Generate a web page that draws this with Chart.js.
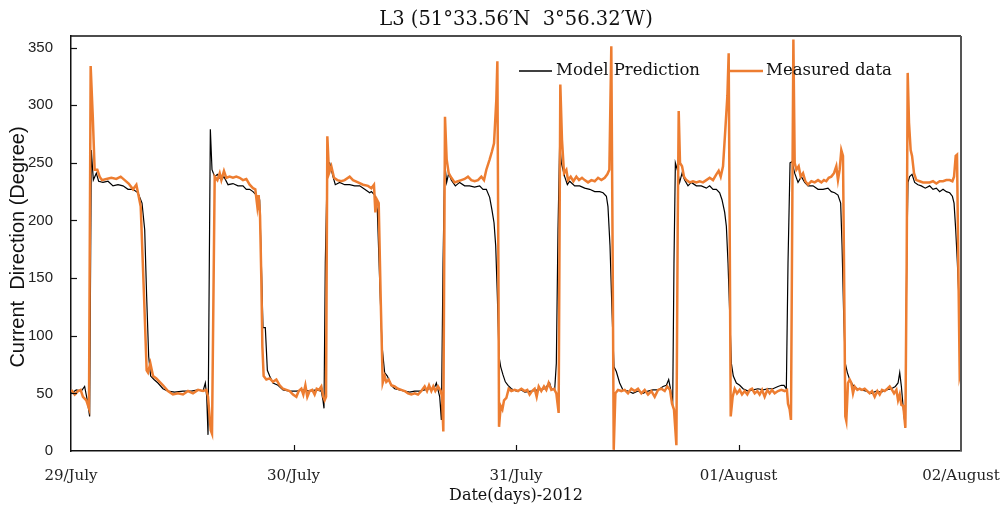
<!DOCTYPE html>
<html><head><meta charset="utf-8">
<script src="https://cdn.jsdelivr.net/npm/chart.js@4.4.1/dist/chart.umd.min.js"></script>
<style>html,body{margin:0;padding:0;background:#fff;} #wrap{width:1006px;height:513px;}</style>
</head><body><div id="wrap"><canvas id="c" width="1006" height="513"></canvas></div>
<script>
const titleText = 'L3 (51°33.56′N  3°56.32′W)';
const yTitle = 'Current  Direction (Degree)';
const xTitle = 'Date(days)-2012';
const tickHours = [0, 24, 48, 72, 96];
const tickLabels = ['29/July', '30/July', '31/July', '01/August', '02/August'];
const seriesNames = ['Model Prediction', 'Measured data'];

// [hour since 29/July 00:00, direction in degrees]
const measured = [
[0.04,53],[0.40,49],[0.76,52],[1.04,53],[1.29,47],[1.65,44],[1.94,37],[2.12,334],[2.35,290],[2.55,244],[2.84,244],[3.09,238],[3.34,235],[3.81,236],[4.35,237],[4.89,236],[5.36,238],[5.79,235],[6.22,232],[6.69,227],[7.05,231],[7.30,221],[7.52,212],[7.88,134],[8.16,70],[8.31,68],[8.56,76],[8.85,65],[9.21,63],[9.56,60],[9.92,57],[10.46,52],[11.00,49],[11.54,50],[12.08,49],[12.62,52],[13.16,50],[13.70,53],[14.24,52],[14.60,53],[14.78,47],[15.07,18],[15.21,15],[15.50,238],[15.79,235],[16.04,241],
[16.22,235],[16.50,243],[16.75,237],[17.11,238],[17.47,237],[17.83,238],[18.19,237],[18.55,235],[18.91,236],[19.27,231],[19.63,228],[19.88,227],[20.10,212],[20.24,222],[20.39,204],[20.53,149],[20.64,91],[20.78,65],[21.07,62],[21.43,63],[21.79,60],[22.15,62],[22.51,57],[22.87,54],[23.23,53],[23.59,52],[23.95,49],[24.31,47],[24.56,52],[24.85,54],[25.06,49],[25.28,57],[25.49,47],[25.74,52],[26.03,53],[26.28,49],[26.50,54],[26.75,53],[27.00,56],[27.22,47],[27.36,44],[27.51,47],[27.65,273],[27.83,241],[28.08,247],[28.37,237],[28.73,235],[29.16,234],[29.52,235],[30.06,238],[30.42,235],[30.96,233],[31.50,231],[32.04,230],
[32.40,228],[32.68,231],[32.83,207],[33.00,218],[33.19,215],[33.40,134],[33.62,59],[33.83,65],[34.01,60],[34.27,62],[34.55,57],[34.91,56],[35.27,54],[35.63,53],[35.99,52],[36.35,50],[36.71,49],[37.07,50],[37.43,49],[37.79,52],[38.15,56],[38.40,52],[38.62,57],[38.87,52],[39.08,56],[39.30,52],[39.59,56],[39.88,52],[40.02,47],[40.16,17],[40.34,290],[40.52,253],[40.74,241],[41.03,237],[41.38,233],[41.74,234],[42.10,235],[42.46,236],[42.82,238],[43.18,235],[43.54,234],[43.90,235],[44.26,238],[44.55,235],[44.80,244],[45.16,253],[45.41,260],[45.63,267],[45.88,305],[45.99,338],[46.10,163],[46.17,21],[46.35,39],[46.53,36],[46.71,44],[46.96,46],[47.21,54],[47.50,52],[47.86,53],[48.22,52],
[48.58,54],[48.94,52],[49.22,53],[49.47,49],[49.73,52],[50.01,54],[50.23,47],[50.45,56],[50.73,52],[51.02,56],[51.27,53],[51.52,59],[51.81,53],[52.10,54],[52.35,50],[52.60,33],[52.78,318],[52.96,270],[53.18,241],[53.43,244],[53.61,235],[53.90,238],[54.19,234],[54.51,238],[54.80,235],[55.12,237],[55.41,235],[55.77,233],[56.13,235],[56.49,234],[56.85,237],[57.21,235],[57.57,237],[57.85,240],[58.07,244],[58.28,351],[58.43,163],[58.54,1],[58.72,50],[59.00,53],[59.36,52],[59.72,53],[60.08,50],[60.44,54],[60.80,52],[61.16,54],[61.52,50],[61.88,53],[62.24,49],[62.60,52],[62.96,47],[63.32,53],[63.68,54],[64.04,52],[64.32,56],
[64.61,53],[64.83,41],[65.04,36],[65.30,5],[65.44,192],[65.55,295],[65.69,250],[65.91,247],[66.12,238],[66.37,235],[66.73,233],[67.09,234],[67.45,233],[67.81,234],[68.17,233],[68.53,235],[68.89,237],[69.25,235],[69.61,240],[69.86,243],[70.08,238],[70.33,247],[70.58,279],[70.80,308],[70.94,345],[71.05,192],[71.16,30],[71.37,47],[71.59,54],[71.84,50],[72.13,53],[72.38,49],[72.67,52],[72.95,49],[73.21,53],[73.46,54],[73.75,50],[74.03,52],[74.28,49],[74.54,53],[74.82,47],[75.11,53],[75.36,50],[75.61,53],[75.90,50],[76.26,52],[76.62,53],[76.98,52],[77.23,53],[77.34,41],[77.52,36],[77.66,27],[77.81,221],[77.92,357],[78.06,250],[78.24,244],[78.49,247],[78.71,238],[78.96,241],[79.21,234],[79.50,231],[79.86,234],[80.22,233],[80.58,235],
[80.94,233],[81.22,235],[81.47,234],[81.73,237],[82.01,238],[82.30,241],[82.55,247],[82.73,235],[82.91,244],[83.09,261],[83.27,256],[83.38,163],[83.52,30],[83.63,26],[83.81,59],[83.99,62],[84.17,59],[84.35,50],[84.53,56],[84.82,53],[85.07,54],[85.32,53],[85.61,54],[85.90,52],[86.15,50],[86.40,52],[86.69,47],[86.98,52],[87.23,49],[87.48,53],[87.77,52],[88.06,54],[88.31,56],[88.56,53],[88.78,50],[89.03,53],[89.21,44],[89.39,49],[89.57,40],[89.78,39],[90.00,20],[90.14,163],[90.25,328],[90.39,285],[90.57,261],[90.72,256],[90.93,241],[91.18,235],[91.54,234],[91.90,233],[92.26,233],[92.62,233],[92.98,234],[93.34,232],[93.70,234],[94.06,234],[94.42,235],[94.78,235],[95.07,234],[95.25,238],[95.43,256],[95.57,257],[95.71,163],[95.86,65],[96.00,70]
];

const model = [
[0.04,50],[0.57,53],[1.11,52],[1.47,56],[1.76,44],[2.01,30],[2.19,261],[2.41,235],[2.73,241],[2.98,234],[3.45,233],[3.99,234],[4.53,230],[5.07,231],[5.61,230],[6.15,227],[6.69,227],[7.23,224],[7.66,215],[7.95,192],[8.16,134],[8.38,82],[8.59,65],[8.95,62],[9.38,59],[9.92,54],[10.46,52],[11.18,51],[12.08,52],[12.98,52],[13.70,53],[14.24,52],[14.49,59],[14.64,47],[14.78,14],[15.03,279],[15.21,244],[15.50,238],[15.79,240],[16.04,237],
[16.22,235],[16.50,238],[16.94,231],[17.47,232],[18.01,230],[18.55,230],[18.91,227],[19.27,227],[19.63,225],[19.99,222],[20.35,218],[20.53,163],[20.71,107],[20.96,107],[21.18,70],[21.43,65],[21.79,59],[22.33,57],[22.87,53],[23.59,52],[24.31,52],[25.03,53],[25.74,52],[26.46,53],[27.00,52],[27.18,44],[27.29,37],[27.43,163],[27.65,250],[27.90,250],[28.26,238],[28.51,231],[28.98,233],[29.52,231],[30.06,231],[30.60,230],[31.14,230],[31.68,227],[32.22,224],
[32.40,225],[32.76,222],[33.04,209],[33.29,149],[33.55,91],[33.83,68],[34.12,65],[34.55,57],[34.91,54],[35.45,53],[35.99,52],[36.53,51],[37.07,52],[37.61,52],[38.15,53],[38.69,54],[39.16,54],[39.41,59],[39.59,53],[39.77,47],[39.95,27],[40.13,163],[40.31,250],[40.52,233],[40.74,241],[41.03,235],[41.46,230],[41.92,233],[42.46,230],[43.00,230],[43.54,229],[44.08,230],[44.44,227],[44.80,227],[45.16,220],[45.41,209],[45.63,198],[45.81,178],[45.99,134],[46.17,82],[46.35,73],[46.60,66],[46.85,60],[47.14,57],[47.50,54],[48.04,52],
[48.58,53],[48.94,51],[49.65,52],[50.37,53],[51.09,54],[51.63,59],[51.81,54],[52.17,53],[52.35,76],[52.53,192],[52.71,267],[52.89,250],[53.25,238],[53.54,231],[53.79,234],[54.33,230],[54.87,230],[55.41,228],[55.95,227],[56.49,225],[57.03,225],[57.39,224],[57.75,221],[57.92,212],[58.14,178],[58.36,120],[58.57,73],[58.82,69],[59.18,59],[59.54,53],[60.08,52],[60.62,50],[61.16,52],[61.70,50],[62.24,52],[62.78,53],[63.32,53],[63.86,56],[64.22,57],[64.47,62],[64.69,53],
[64.90,39],[65.04,163],[65.19,250],[65.40,244],[65.65,233],[65.91,241],[66.19,235],[66.55,230],[66.91,233],[67.45,230],[67.99,230],[68.53,228],[68.89,230],[69.25,227],[69.61,227],[69.97,224],[70.22,218],[70.51,207],[70.69,195],[70.87,163],[71.05,120],[71.23,76],[71.44,65],[71.77,59],[72.13,57],[72.49,54],[73.03,52],[73.57,53],[74.10,54],[74.64,53],[75.18,54],[75.72,54],[76.26,56],[76.62,57],[76.91,57],[77.16,54],[77.34,163],[77.56,250],[77.77,251],[78.06,241],[78.42,233],[78.78,238],[79.14,233],[79.50,230],[80.04,230],[80.58,227],
[81.12,227],[81.65,228],[82.01,225],[82.37,224],[82.73,222],[83.02,215],[83.17,178],[83.34,120],[83.52,76],[83.74,68],[83.99,62],[84.35,57],[84.82,54],[85.25,53],[85.79,52],[86.33,50],[86.87,52],[87.41,51],[87.95,53],[88.49,54],[88.92,56],[89.21,59],[89.39,68],[89.57,56],[89.75,39],[90.00,20],[90.14,163],[90.28,233],[90.46,238],[90.72,240],[91.00,233],[91.36,231],[91.72,230],[92.15,228],[92.62,230],[92.98,227],[93.34,228],[93.70,225],[94.06,227],[94.42,225],[94.78,224],[95.07,221],[95.25,215],[95.43,192],[95.61,163],[95.79,130],[96.00,110]
];

const SERIF = '"DejaVu Serif", serif';
const SANS = '"Liberation Sans", Arial, sans-serif';

const extras = {
  id: 'extras',
  afterDraw(chart) {
    const {ctx, chartArea: a, scales: {x, y}} = chart;
    ctx.save();
    // frame
    ctx.strokeStyle = '#111'; ctx.lineWidth = 1.5;
    ctx.beginPath(); ctx.moveTo(a.left, a.top); ctx.lineTo(a.right, a.top); ctx.stroke();
    ctx.strokeStyle = '#555'; ctx.lineWidth = 2;
    ctx.beginPath(); ctx.moveTo(a.right, a.top); ctx.lineTo(a.right, a.bottom); ctx.stroke();
    // inside tick marks
    ctx.strokeStyle = '#111'; ctx.lineWidth = 1.2;
    y.ticks.forEach(t => {
      if (t.value === 0) return;
      const py = Math.round(y.getPixelForValue(t.value)) + 0.5;
      ctx.beginPath(); ctx.moveTo(a.left, py); ctx.lineTo(a.left + 6, py); ctx.stroke();
    });
    tickHours.slice(1, -1).forEach(h => {
      const px = Math.round(x.getPixelForValue(h)) + 0.5;
      ctx.beginPath(); ctx.moveTo(px, a.bottom); ctx.lineTo(px, a.bottom - 6); ctx.stroke();
    });
    // x tick labels
    ctx.fillStyle = '#222';
    ctx.textAlign = 'center'; ctx.textBaseline = 'middle';
    ctx.font = '15px ' + SERIF;
    tickHours.forEach((h, i) => ctx.fillText(tickLabels[i], x.getPixelForValue(h), 476));
    // title
    ctx.fillStyle = '#111';
    ctx.font = '19.5px ' + SERIF;
    ctx.fillText(titleText, (a.left + a.right) / 2, 20);
    // x title
    ctx.font = '16px ' + SERIF;
    ctx.fillText(xTitle, (a.left + a.right) / 2, 496);
    // y title
    ctx.save();
    ctx.translate(18, 247);
    ctx.rotate(-Math.PI / 2);
    ctx.font = '20px ' + SANS;
    ctx.fillText(yTitle, 0, 0);
    ctx.restore();
    // legend
    ctx.font = '16.5px ' + SERIF;
    ctx.textAlign = 'left';
    ctx.strokeStyle = '#000'; ctx.lineWidth = 1.3;
    ctx.beginPath(); ctx.moveTo(519, 71); ctx.lineTo(552, 71); ctx.stroke();
    ctx.fillText(seriesNames[0], 556, 71);
    ctx.strokeStyle = '#ED7D31'; ctx.lineWidth = 2.5;
    ctx.beginPath(); ctx.moveTo(729, 71); ctx.lineTo(763, 71); ctx.stroke();
    ctx.fillText(seriesNames[1], 766, 71);
    ctx.restore();
  }
};

new Chart(document.getElementById('c'), {
  type: 'line',
  data: {
    datasets: [
      {label: seriesNames[1], data: measured.map(p => ({x: p[0], y: p[1]})), borderColor: '#ED7D31', borderWidth: 2.5, pointRadius: 0, tension: 0, fill: false, order: 0},
      {label: seriesNames[0], data: model.map(p => ({x: p[0], y: p[1]})), borderColor: '#000000', borderWidth: 1.2, pointRadius: 0, tension: 0, fill: false, order: 1}
    ]
  },
  options: {
    responsive: false,
    animation: false,
    devicePixelRatio: 1,
    layout: {padding: {top: 36, right: 45, left: 0, bottom: 0}},
    plugins: {legend: {display: false}, title: {display: false}, tooltip: {enabled: false}},
    scales: {
      x: {
        type: 'linear', min: 0, max: 96,
        afterBuildTicks: s => { s.ticks = tickHours.map(v => ({value: v})); },
        afterFit: s => { s.height = 62; },
        ticks: {display: false},
        grid: {display: false, drawTicks: false},
        border: {display: true, color: '#111', width: 1.5}
      },
      y: {
        min: 0, max: 360,
        afterFit: s => { s.width = 71; },
        ticks: {stepSize: 50, includeBounds: false, padding: 18, color: '#222', font: {family: SANS, size: 15}},
        grid: {display: false, drawTicks: false},
        border: {display: true, color: '#111', width: 1.5}
      }
    }
  },
  plugins: [extras]
});
</script>
</body></html>
